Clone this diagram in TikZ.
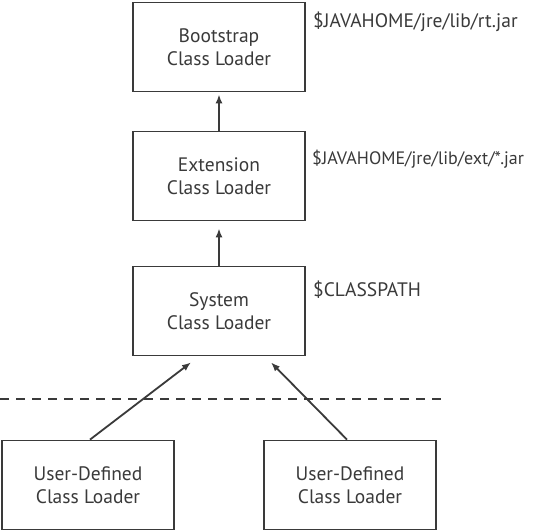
\documentclass[tikz,border=0pt]{standalone}
\usepackage{fontspec}
\setmainfont{PT Sans}
\usetikzlibrary{arrows.meta}
\definecolor{ink}{HTML}{3A3A3A}
\begin{document}
\begin{tikzpicture}[x=1pt,y=-1pt,
  loader/.style={draw=ink,line width=1.8pt,fill=white,minimum width=172pt,minimum height=89pt,
    align=center,font=\fontsize{19.5}{23}\selectfont,text=ink,inner sep=0pt},
  path/.style={anchor=west,font=\fontsize{19.5}{22}\selectfont,text=ink,inner sep=0pt},
  link/.style={draw=ink,line width=1.8pt,-{Latex[length=9pt,width=7pt]}}]
\useasboundingbox[fill=white] (0,0) rectangle (538,530);
\node[loader] (boot) at (219,47) {Bootstrap\\Class Loader};
\node[loader] (ext) at (219,176) {Extension\\Class Loader};
\node[loader] (sys) at (219,311) {System\\Class Loader};
\node[loader] (u1) at (88,485) {User-Defined\\Class Loader};
\node[loader] (u2) at (350,485) {User-Defined\\Class Loader};
\node[path] (p1) at (313,22) {\$JAVAHOME/jre/lib/rt.jar};
\node[path,font=\fontsize{18}{22}\selectfont] (p2) at (312,159) {\$JAVAHOME/jre/lib/ext/*.jar};
\node[path] (p3) at (313,290) {\$CLASSPATH};
\coordinate (dl) at (0,399);
\coordinate (dr) at (441,399);
\draw[ink,line width=1.8pt,dash pattern=on 9pt off 7pt] (dl) -- (dr);
\draw[link] (ext.north) -- ([yshift=-2pt]boot.south);
\draw[link] (sys.north) -- ([yshift=-7pt]ext.south);
\draw[link] ([xshift=2pt]u1.north) -- ([xshift=-28pt,yshift=-6pt]sys.south);
\draw[link] ([xshift=-3pt]u2.north) -- ([xshift=52pt,yshift=-6pt]sys.south);
\end{tikzpicture}
\end{document}
